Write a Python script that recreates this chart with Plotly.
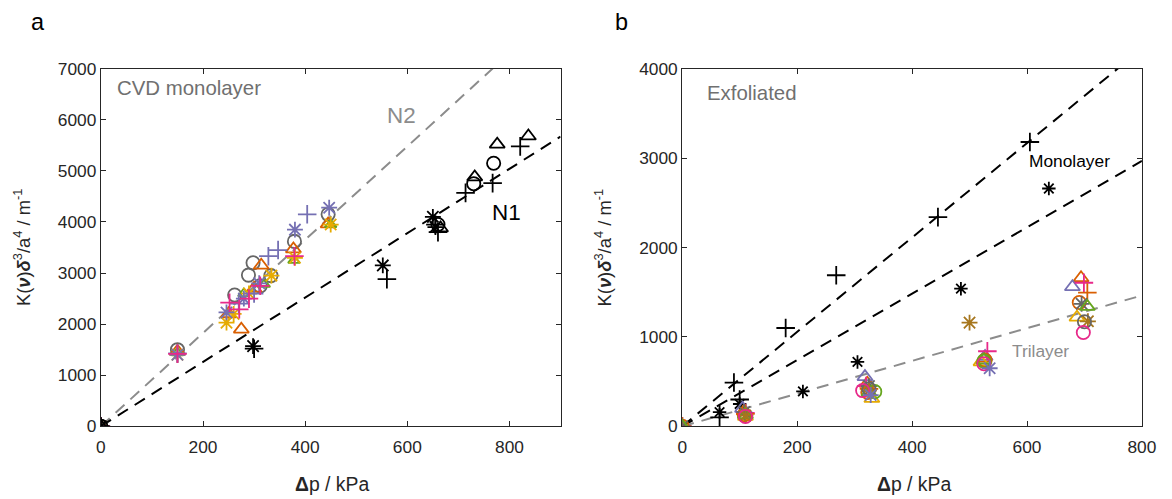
import plotly.graph_objects as go

# ---------------- data: panel a (CVD monolayer) ----------------
a_black_plus_x = [0, 300, 560, 655, 660, 714, 767, 821]
a_black_plus_y = [0, 1520, 2880, 3950, 3800, 4570, 4760, 5480]
a_black_ast_x = [0, 298, 552, 650, 655]
a_black_ast_y = [0, 1570, 3150, 4100, 3900]
a_black_circ_x = [0, 660, 730, 769]
a_black_circ_y = [0, 3950, 4750, 5150]
a_black_tri_x = [0, 665, 732, 776, 837]
a_black_tri_y = [0, 3880, 4880, 5520, 5680]

a_gray_circ_x = [0, 150, 262, 289, 298, 312, 333, 379, 445]
a_gray_circ_y = [0, 1500, 2570, 2960, 3200, 2750, 2950, 3620, 4150]
a_orange_tri_x = [0, 150, 275, 250, 300, 314, 377, 445]
a_orange_tri_y = [0, 1470, 1900, 2200, 2700, 3150, 3470, 3960]
a_yellow_ast_x = [0, 150, 246, 260, 290, 334, 380, 450]
a_yellow_ast_y = [0, 1400, 2030, 2200, 2600, 2950, 3300, 3950]
a_purple_plus_x = [0, 150, 270, 300, 328, 347, 404]
a_purple_plus_y = [0, 1430, 2400, 2600, 3330, 3450, 4150]
a_purple_ast_x = [0, 150, 246, 280, 310, 380, 447]
a_purple_ast_y = [0, 1400, 2230, 2500, 2800, 3850, 4280]
a_pink_plus_x = [0, 150, 252, 271, 290, 312, 379]
a_pink_plus_y = [0, 1420, 2420, 2290, 2500, 2750, 3330]
a_green_tri_x = [0, 150, 280, 320, 378, 450]
a_green_tri_y = [0, 1440, 2600, 2780, 3250, 3950]

n1_slope = 6.3
n2_slope = 9.13
a_line_x = [0, 900]

# ---------------- data: panel b (Exfoliated) ----------------
b_black_plus_x = [0, 65, 90, 100, 180, 268, 445, 605]
b_black_plus_y = [0, 100, 490, 300, 1100, 1690, 2340, 3180]
b_black_ast_x = [0, 65, 100, 210, 305, 485, 638]
b_black_ast_y = [0, 160, 250, 390, 720, 1540, 2660]

b_orange_tri_x = [0, 108, 322, 525, 694]
b_orange_tri_y = [0, 170, 480, 760, 1660]
b_purple_tri_x = [0, 105, 318, 527, 679]
b_purple_tri_y = [0, 200, 555, 780, 1560]
b_yellow_tri_x = [0, 110, 330, 520, 687]
b_yellow_tri_y = [0, 110, 310, 720, 1220]
b_pink_plus_x = [0, 110, 320, 531, 699]
b_pink_plus_y = [0, 150, 450, 840, 1606]
b_orange_plus_x = [0, 110, 325, 705]
b_orange_plus_y = [0, 140, 420, 1496]
b_orange_circ_x = [0, 108, 323, 527, 691]
b_orange_circ_y = [0, 130, 380, 740, 1385]
b_gray_ast_x = [0, 108, 325, 695]
b_gray_ast_y = [0, 160, 450, 1370]
b_green_tri_x = [0, 110, 325, 525, 705]
b_green_tri_y = [0, 130, 380, 740, 1340]
b_green_circ_x = [335, 525]
b_green_circ_y = [388, 730]
b_brown_ast_x = [110, 325, 500, 706]
b_brown_ast_y = [120, 400, 1160, 1175]
b_gray_circ_x = [325, 700]
b_gray_circ_y = [420, 1170]
b_pink_circ_x = [110, 314, 525, 698]
b_pink_circ_y = [110, 400, 700, 1050]
b_purple_ast_x = [328, 535]
b_purple_ast_y = [350, 650]

mono_slope = 5.28
bi_slope = 3.71
tri_slope = 1.83
b_line_x = [0, 800]

# ---------------- styling ----------------
BLACK = "#000000"
GRAY = "#666666"
ORANGE = "#d95f02"
PURPLE = "#7570b3"
PINK = "#e7298a"
GREEN = "#66a61e"
YELLOW = "#e6ab02"
BROWN = "#a6761d"
FONT = "Liberation Sans, Arial, sans-serif"

SYM = {"plus": "cross-thin-open", "ast": "asterisk-open",
       "circ": "circle-open", "tri": "triangle-up-open"}

W, H = 1172, 499
# page body keeps an 8px margin; compensate for the picture's scaling
OFF = 8
SX = (W + 2 * OFF) / W
SY = (H + 2 * OFF) / H
FS = 1.02  # font / marker compensation


def px(x):
    return (x * SX - OFF) / W


def py(y):
    return 1 - (y * SY - OFF) / H


fig = go.Figure()


def pts(x, y, sym, color, xa, ya, size=13):
    fig.add_trace(go.Scatter(
        x=x, y=y, mode="markers", xaxis=xa, yaxis=ya, showlegend=False,
        marker=dict(symbol=SYM[sym], size=size * FS, color=color,
                    line=dict(color=color, width=1.8))))


def line(xs, slope, color, xa, ya):
    fig.add_trace(go.Scatter(
        x=xs, y=[slope * v for v in xs], mode="lines", xaxis=xa, yaxis=ya,
        showlegend=False, line=dict(color=color, width=2, dash="12px,8px")))


# panel a
line(a_line_x, n2_slope, "#8c8c8c", "x", "y")
line(a_line_x, n1_slope, BLACK, "x", "y")
pts(a_gray_circ_x, a_gray_circ_y, "circ", GRAY, "x", "y")
pts(a_orange_tri_x, a_orange_tri_y, "tri", ORANGE, "x", "y")
pts(a_green_tri_x, a_green_tri_y, "tri", GREEN, "x", "y", 10)
pts(a_yellow_ast_x, a_yellow_ast_y, "ast", YELLOW, "x", "y")
pts(a_purple_plus_x, a_purple_plus_y, "plus", PURPLE, "x", "y")
pts(a_purple_ast_x, a_purple_ast_y, "ast", PURPLE, "x", "y")
pts(a_pink_plus_x, a_pink_plus_y, "plus", PINK, "x", "y")
pts(a_black_plus_x, a_black_plus_y, "plus", BLACK, "x", "y")
pts(a_black_ast_x, a_black_ast_y, "ast", BLACK, "x", "y")
pts(a_black_circ_x, a_black_circ_y, "circ", BLACK, "x", "y")
pts(a_black_tri_x, a_black_tri_y, "tri", BLACK, "x", "y")

# panel b
line(b_line_x, mono_slope, BLACK, "x2", "y2")
line(b_line_x, bi_slope, BLACK, "x2", "y2")
line(b_line_x, tri_slope, "#8c8c8c", "x2", "y2")
pts(b_black_plus_x, b_black_plus_y, "plus", BLACK, "x2", "y2")
pts(b_black_ast_x, b_black_ast_y, "ast", BLACK, "x2", "y2", 11)
pts(b_orange_tri_x, b_orange_tri_y, "tri", ORANGE, "x2", "y2")
pts(b_purple_tri_x, b_purple_tri_y, "tri", PURPLE, "x2", "y2")
pts(b_yellow_tri_x, b_yellow_tri_y, "tri", YELLOW, "x2", "y2")
pts(b_pink_plus_x, b_pink_plus_y, "plus", PINK, "x2", "y2")
pts(b_orange_plus_x, b_orange_plus_y, "plus", ORANGE, "x2", "y2")
pts(b_orange_circ_x, b_orange_circ_y, "circ", ORANGE, "x2", "y2")
pts(b_gray_ast_x, b_gray_ast_y, "ast", GRAY, "x2", "y2")
pts(b_green_tri_x, b_green_tri_y, "tri", GREEN, "x2", "y2")
pts(b_green_circ_x, b_green_circ_y, "circ", GREEN, "x2", "y2")
pts(b_brown_ast_x, b_brown_ast_y, "ast", BROWN, "x2", "y2")
pts(b_gray_circ_x, b_gray_circ_y, "circ", GRAY, "x2", "y2")
pts(b_pink_circ_x, b_pink_circ_y, "circ", PINK, "x2", "y2")
pts(b_purple_ast_x, b_purple_ast_y, "ast", PURPLE, "x2", "y2")

ax_common = dict(showgrid=False, zeroline=False, showline=True, linecolor="#262626",
                 linewidth=1, mirror="ticks", ticks="inside", ticklen=5,
                 tickcolor="#262626",
                 tickfont=dict(family=FONT, size=17 * FS, color="#262626"))
ydom = [py(428), py(67)]

fig.update_layout(
    width=W, height=H, margin=dict(l=0, r=0, t=0, b=0),
    paper_bgcolor="white", plot_bgcolor="white",
    font=dict(family=FONT, color="#262626"),
    xaxis=dict(domain=[px(104), px(565)], range=[0, 900], tickvals=[0, 200, 400, 600, 800],
               anchor="y", ticklabelstandoff=5, **ax_common),
    yaxis=dict(domain=ydom, range=[0, 7000], tickvals=list(range(0, 7001, 1000)),
               anchor="x", **ax_common),
    xaxis2=dict(domain=[px(687), px(1148)], range=[0, 800], tickvals=[0, 200, 400, 600, 800],
                anchor="y2", ticklabelstandoff=5, **ax_common),
    yaxis2=dict(domain=ydom, range=[0, 4000], tickvals=list(range(0, 4001, 1000)),
                anchor="x2", **ax_common),
)

ylab = "K(<b><i>ν</i></b>)<b><i>δ</i></b><sup>3</sup>/a<sup>4</sup> / m<sup>-1</sup>"
xlab = "<b>Δ</b>p / kPa"


def ann(text, x, y, size, color="#262626", angle=0, xanchor="center", yanchor="middle"):
    fig.add_annotation(text=text, x=px(x), y=py(y), xref="paper", yref="paper",
                       showarrow=False, textangle=angle, xanchor=xanchor, yanchor=yanchor,
                       font=dict(family=FONT, size=size * FS, color=color))


ann(ylab, 25, 247, 18, angle=-90)
ann(ylab, 608, 247, 18, angle=-90)
ann(xlab, 336, 486, 19)
ann(xlab, 919, 486, 19)
ann("a", 41, 20, 23, color="#000000")
ann("b", 626, 20, 23, color="#000000")
ann("CVD monolayer", 118, 86, 20, color="#707070", xanchor="left")
ann("N2", 405, 114, 22, color="#8c8c8c")
ann("N1", 511, 212, 22, color="#000000")
ann("Exfoliated", 710, 92, 20, color="#707070", xanchor="left")
ann("Monolayer", 1033, 160, 17, color="#000000", xanchor="left")
ann("Trilayer", 1016, 352, 17, color="#8c8c8c", xanchor="left")

fig.write_html("out.html")
